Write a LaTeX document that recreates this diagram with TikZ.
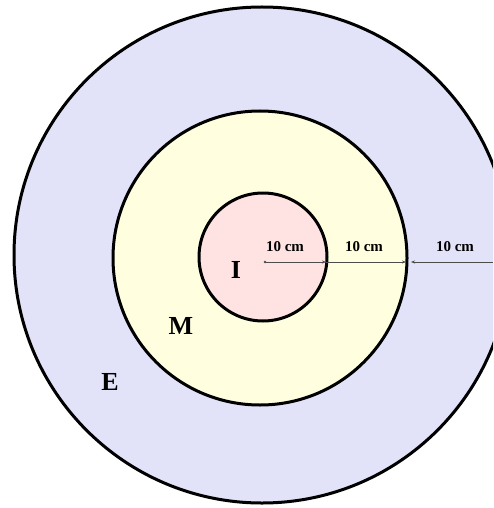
\documentclass[tikz,border=0pt]{standalone}
\usepackage{fontspec}
\setmainfont{Liberation Serif}
\usetikzlibrary{arrows.meta}
\definecolor{outerc}{RGB}{226,226,248}
\definecolor{midc}{RGB}{255,255,224}
\definecolor{innerc}{RGB}{255,226,226}
\tikzset{
  ring/.style={draw=black, line width=3pt},
  dim/.style={draw=black!70, line width=0.8pt, -{Stealth[length=4pt,width=3pt]}},
  lab/.style={font=\bfseries\fontsize{15}{15}\selectfont, inner sep=0pt},
  zone/.style={font=\bfseries\fontsize{26}{26}\selectfont, inner sep=0pt}
}
\begin{document}
\begin{tikzpicture}[x=1pt,y=-1pt]
\useasboundingbox (0,0) rectangle (493,508);
\clip (0,0) rectangle (493,508);
\fill[white] (0,0) rectangle (493,508);
\coordinate (co) at (262,255);
\coordinate (cm) at (260,258);
\coordinate (ci) at (263,257);
\draw[ring, fill=outerc] (co) circle[radius=248];
\draw[ring, fill=midc] (cm) circle[radius=147];
\draw[ring, fill=innerc] (ci) circle[radius=64];
\coordinate (a0) at (265,262);
\coordinate (a1) at (326,262);
\coordinate (a2) at (406,262);
\coordinate (a3) at (411,262);
\coordinate (a4) at (493,262);
\fill[black!70] (a0) circle[radius=1.3];
\draw[dim] (a0) -- (a1);
\draw[dim] (a1) -- (a2);
\draw[dim] (a4) -- (a3);
\node[lab] (l1) at (285,247) {10 cm};
\node[lab] (l2) at (364,247) {10 cm};
\node[lab] (l3) at (455,247) {10 cm};
\node[zone] (I) at (236,270) {I};
\node[zone] (M) at (181,326) {M};
\node[zone] (E) at (110,382) {E};
\end{tikzpicture}
\end{document}
